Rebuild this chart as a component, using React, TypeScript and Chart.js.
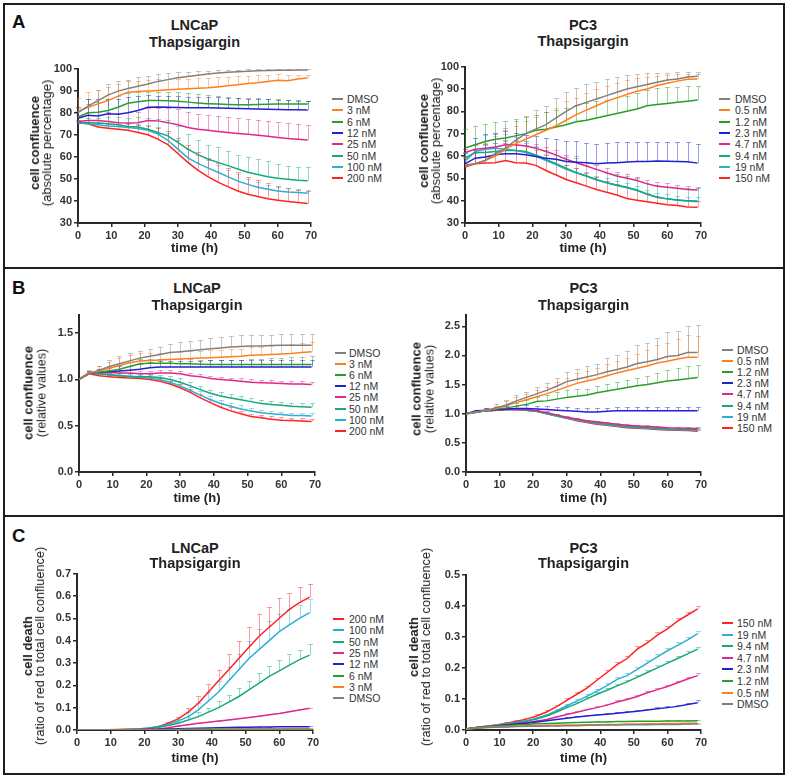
import React, { useEffect, useRef } from "react";
import { Chart, registerables } from "chart.js";
Chart.register(...registerables);

// ---------- data ----------
const TIMES = [0, 3, 6, 9, 12, 15, 18, 21, 24, 27, 30, 33, 36, 39, 42, 45, 48, 51, 54, 57, 60, 63, 66, 69];
const X_TICKS = [0, 10, 20, 30, 40, 50, 60, 70];
const LNCAP_DOSES = ["DMSO", "3 nM", "6 nM", "12 nM", "25 nM", "50 nM", "100 nM", "200 nM"];
const PC3_DOSES = ["DMSO", "0.5 nM", "1.2 nM", "2.3 nM", "4.7 nM", "9.4 nM", "19 nM", "150 nM"];

// A – LNCaP, absolute confluence (%)
const aL0 = [80, 83, 85.5, 88, 89.8, 91, 92, 93, 94.2, 95, 95.8, 96.4, 97, 97.5, 98, 98.4, 98.6, 98.8, 99, 99.1, 99.2, 99.3, 99.4, 99.4];
const aL0sd = [2, 3, 5, 5, 4.5, 4, 4, 3.8, 3.3, 3, 2.5, 2.2, 1.8, 1.5, 1.2, 1, 0.9, 0.8, 0.7, 0.6, 0.5, 0.5, 0.5, 0.4];
const aL1 = [80.5, 82.5, 84, 85.5, 87.5, 89.3, 89.6, 89.8, 90.1, 90.4, 90.6, 90.9, 91.1, 91.3, 91.7, 92.2, 92.7, 93.2, 93.6, 94.2, 94.7, 94.5, 95.3, 95.7];
const aL1sd = [6, 7, 6.5, 6, 5.5, 5, 5, 5, 5, 5, 4.8, 4.6, 4.5, 4.5, 4.3, 4, 3.8, 3.6, 3.3, 3, 2.7, 2.6, 2, 1.6];
const aL2 = [78, 80, 80.2, 81, 82.5, 84.3, 85, 85.5, 85.5, 85.4, 85.2, 84.8, 84.4, 84.1, 83.9, 83.7, 83.6, 83.6, 83.7, 83.8, 83.9, 83.9, 84, 84];
const aL2sd = [3, 4, 4.5, 5, 5, 4.5, 4.3, 4, 4, 4, 4, 4, 4, 3.8, 3.6, 3.4, 3.2, 3, 2.8, 2.5, 2.2, 2, 1.8, 1.5];
const aL3 = [77.5, 78.8, 78.5, 79.5, 79.3, 80, 81, 82.5, 82.6, 82.5, 82.4, 82.3, 82.2, 82.2, 82.1, 82, 81.9, 81.8, 81.7, 81.6, 81.5, 81.4, 81.3, 81.2];
const aL3sd = [5, 7.5, 7.5, 6.5, 7, 7, 6.5, 5.5, 5, 5, 5, 5, 5, 5, 5, 4.8, 4.6, 4.5, 4.4, 4.4, 4.3, 4.3, 4.2, 4.2];
const aL4 = [76, 76.5, 76.5, 76, 75.5, 75.3, 75.5, 76.5, 76.3, 75.5, 74.5, 73.3, 72.5, 72, 71.5, 71, 70.6, 70.2, 69.8, 69.3, 68.8, 68.3, 68, 67.6];
const aL4sd = [3, 4, 4, 4.5, 4.5, 5, 5, 5.5, 6, 6.5, 7, 7.2, 7, 7, 6.8, 7, 7, 7.1, 7, 7, 7, 7.2, 6.8, 6.7];
const aL5 = [75.5, 75.5, 75.3, 75, 74.5, 73.8, 73.5, 72.5, 71, 69.5, 66.5, 63.5, 61, 59, 57.5, 56, 54.5, 53, 52, 51, 50.3, 49.8, 49.4, 49.2];
const aL5sd = [1, 2, 2.5, 3, 3.5, 4, 4.5, 5, 6, 7, 7.5, 7, 6.5, 6.5, 7, 6.5, 6.5, 7, 7, 7, 6.5, 6.2, 6.1, 6.3];
const aL6 = [75.5, 75, 74.5, 74, 73.8, 73.3, 72.8, 72, 70.3, 67.5, 63.5, 59.5, 57, 55, 53, 51, 49, 47.5, 46.2, 45.3, 44.5, 44, 43.8, 43.5];
const aL6sd = [0.5, 1, 1.5, 1.5, 2, 2, 2, 2.5, 3, 3.5, 4, 4, 4, 3.5, 3.5, 3, 3, 2.5, 2.5, 2, 2, 1.8, 1.5, 1.5];
const aL7 = [75.5, 75, 73.5, 73, 72.5, 72, 71, 70, 68, 65.5, 61.5, 57.5, 54, 51, 48.5, 46.5, 44.5, 43, 42, 41, 40.3, 39.7, 39.3, 38.8];
const aL7sd = [1, 1.5, 2, 2, 2.5, 3, 3.5, 4, 5, 6, 7, 8, 8, 8.5, 8.5, 8.5, 8.5, 8, 7.5, 7, 6.5, 6, 5.5, 5.5];

// A – PC3, absolute confluence (%)
const aR0 = [56, 56.5, 58, 61, 63.5, 67, 70, 72, 74, 77, 80, 82.5, 84, 85.5, 87, 88.5, 90, 91, 92, 93, 94, 94.5, 95.3, 95.7];
const aR0sd = [3, 5, 7, 9, 9, 8.5, 8, 8.5, 8.5, 9, 8.5, 8, 8, 7.5, 7.3, 6.7, 6.2, 5.6, 5, 4.2, 3.3, 2.9, 2.2, 1.8];
const aR1 = [55.5, 56.5, 58, 60, 63, 65.5, 67.5, 69.5, 71.5, 73.5, 76, 78.5, 80.5, 82.5, 84.5, 86, 87.5, 89, 90, 91.5, 92.5, 93.5, 94.3, 94.5];
const aR1sd = [4, 6, 8, 9, 8.5, 8, 8, 8, 8, 8, 8.5, 7.5, 7.5, 7.5, 7, 6.5, 6.5, 6, 5.5, 4.5, 3.8, 3, 2.2, 2];
const aR2 = [63.5, 65, 66.5, 67.5, 68, 69, 70, 71.5, 72, 73, 74, 75.3, 76, 77, 78, 79, 80, 81, 82.5, 83, 83.5, 84, 84.5, 85];
const aR2sd = [8.5, 8.5, 8, 7.7, 7.5, 7.5, 7.5, 7, 7.5, 7.5, 7.5, 7.5, 7.5, 7.5, 7, 7.5, 7, 7, 7, 7.5, 7.5, 7, 6.8, 6.3];
const aR3 = [56.5, 59, 59.5, 60.5, 61, 61, 60.5, 59.8, 59, 58.5, 57.5, 57.2, 57, 56.5, 56.8, 57, 57.3, 57.5, 57.5, 57.7, 57.6, 57.5, 57.4, 56.8];
const aR3sd = [5, 9, 10.5, 10, 10, 9.5, 9, 9, 9, 9, 9.3, 9.3, 9, 9, 9.2, 9.3, 9, 8.8, 8.8, 8.6, 8.7, 8.8, 8.9, 8.5];
const aR4 = [61.5, 63, 63.5, 64, 65, 65, 64.5, 63.5, 62, 60.5, 58.5, 57, 55.5, 54, 52.5, 51, 50, 49, 47.5, 46.5, 46, 45.5, 45, 44.8];
const aR4sd = [1.5, 2, 2, 2, 2, 2, 2, 2, 2, 2, 2, 2, 2, 2, 2, 2, 1.8, 1.8, 1.8, 1.7, 1.7, 1.5, 1.5, 1.5];
const aR5 = [59, 61.5, 61.5, 62, 62.5, 62.5, 62, 60.5, 58.5, 56.5, 54.5, 52.5, 51, 49.5, 48, 47, 46, 44.8, 43, 41.5, 40.8, 40.3, 40, 39.8];
const aR5sd = [3, 4, 4, 4, 4, 4, 4, 4, 4, 4, 5, 7.5, 5, 4.5, 4.5, 5, 5, 5.2, 5, 5.5, 5.2, 5.2, 5.5, 5.7];
const aR6 = [57.5, 62, 63, 63.5, 63, 62.5, 61.5, 60, 58, 56.2, 54, 52.5, 51, 49.2, 48, 46.8, 45.8, 44.5, 42.8, 41.5, 40.8, 40.2, 39.8, 39.5];
const aR6sd = [4, 6, 6.5, 7, 7, 6, 5, 4, 3, 2.5, 2, 2, 2, 2, 2, 2, 2, 2, 2, 2, 2, 2, 2, 2];
const aR7 = [55, 56.5, 56.8, 57, 58, 57, 56.8, 55.8, 53.5, 51.5, 49.5, 48, 46.5, 45, 43.8, 42.5, 41, 40.2, 39.5, 38.8, 38.2, 37.8, 37.2, 37];
const aR7sd = [5, 6, 6.5, 7, 8, 8, 8, 7, 7, 7, 6.5, 6.5, 6, 5.5, 5, 5, 5, 4.5, 4, 3.5, 3, 3, 3, 3];

// B – LNCaP, relative confluence
const bL0 = [1, 1.06, 1.1, 1.14, 1.17, 1.2, 1.23, 1.25, 1.27, 1.29, 1.3, 1.31, 1.32, 1.33, 1.34, 1.35, 1.355, 1.36, 1.36, 1.365, 1.37, 1.37, 1.37, 1.37];
const bL0sd = [0, 0.02, 0.05, 0.07, 0.08, 0.09, 0.08, 0.08, 0.08, 0.09, 0.1, 0.1, 0.11, 0.12, 0.12, 0.12, 0.12, 0.12, 0.12, 0.12, 0.12, 0.12, 0.12, 0.12];
const bL1 = [1, 1.07, 1.09, 1.12, 1.15, 1.18, 1.2, 1.205, 1.21, 1.215, 1.22, 1.225, 1.23, 1.235, 1.24, 1.245, 1.25, 1.26, 1.265, 1.27, 1.275, 1.28, 1.29, 1.3];
const bL1sd = [0, 0.03, 0.06, 0.07, 0.08, 0.08, 0.08, 0.08, 0.08, 0.08, 0.08, 0.08, 0.08, 0.08, 0.08, 0.08, 0.08, 0.09, 0.09, 0.09, 0.1, 0.1, 0.1, 0.1];
const bL2 = [1, 1.07, 1.08, 1.09, 1.11, 1.14, 1.17, 1.175, 1.175, 1.175, 1.17, 1.17, 1.165, 1.16, 1.16, 1.16, 1.16, 1.16, 1.16, 1.16, 1.16, 1.16, 1.16, 1.16];
const bL2sd = [0, 0.02, 0.03, 0.04, 0.05, 0.05, 0.05, 0.05, 0.05, 0.05, 0.05, 0.05, 0.05, 0.05, 0.05, 0.05, 0.05, 0.06, 0.06, 0.07, 0.07, 0.08, 0.08, 0.09];
const bL3 = [1, 1.07, 1.08, 1.085, 1.09, 1.1, 1.11, 1.125, 1.135, 1.135, 1.135, 1.135, 1.135, 1.135, 1.135, 1.135, 1.135, 1.135, 1.135, 1.135, 1.135, 1.135, 1.135, 1.135];
const bL3sd = [0, 0.02, 0.03, 0.04, 0.05, 0.05, 0.06, 0.06, 0.06, 0.06, 0.06, 0.06, 0.06, 0.07, 0.07, 0.07, 0.07, 0.07, 0.07, 0.07, 0.07, 0.08, 0.08, 0.08];
const bL4 = [1, 1.07, 1.075, 1.075, 1.07, 1.07, 1.06, 1.06, 1.07, 1.07, 1.06, 1.04, 1.03, 1.01, 1, 0.99, 0.98, 0.97, 0.965, 0.96, 0.955, 0.95, 0.95, 0.945];
const bL4sd = [0, 0.02, 0.02, 0.03, 0.03, 0.03, 0.03, 0.03, 0.03, 0.03, 0.03, 0.03, 0.03, 0.03, 0.03, 0.03, 0.03, 0.03, 0.03, 0.03, 0.03, 0.03, 0.03, 0.03];
const bL5 = [1, 1.07, 1.06, 1.05, 1.04, 1.035, 1.03, 1.03, 1.02, 1, 0.97, 0.93, 0.89, 0.85, 0.82, 0.8, 0.78, 0.76, 0.74, 0.73, 0.72, 0.71, 0.705, 0.7];
const bL5sd = [0, 0.02, 0.02, 0.02, 0.03, 0.03, 0.03, 0.03, 0.03, 0.04, 0.04, 0.04, 0.04, 0.04, 0.04, 0.04, 0.04, 0.04, 0.04, 0.04, 0.04, 0.04, 0.04, 0.04];
const bL6 = [1, 1.07, 1.06, 1.05, 1.04, 1.03, 1.02, 1.015, 1, 0.97, 0.93, 0.88, 0.83, 0.78, 0.74, 0.71, 0.68, 0.66, 0.64, 0.63, 0.62, 0.61, 0.61, 0.605];
const bL6sd = [0, 0.02, 0.02, 0.02, 0.02, 0.03, 0.03, 0.03, 0.03, 0.03, 0.04, 0.04, 0.04, 0.04, 0.04, 0.04, 0.04, 0.03, 0.03, 0.03, 0.03, 0.03, 0.03, 0.03];
const bL7 = [1, 1.06, 1.04, 1.03, 1.02, 1.015, 1.01, 1, 0.98, 0.95, 0.91, 0.86, 0.8, 0.75, 0.7, 0.66, 0.63, 0.6, 0.585, 0.57, 0.56, 0.555, 0.55, 0.545];
const bL7sd = [0, 0.02, 0.02, 0.02, 0.02, 0.02, 0.03, 0.03, 0.03, 0.03, 0.04, 0.04, 0.04, 0.04, 0.04, 0.04, 0.03, 0.03, 0.03, 0.03, 0.03, 0.03, 0.03, 0.03];

// B – PC3, relative confluence
const bR0 = [1, 1.02, 1.06, 1.1, 1.15, 1.22, 1.28, 1.34, 1.4, 1.47, 1.55, 1.59, 1.63, 1.67, 1.72, 1.76, 1.8, 1.86, 1.89, 1.93, 1.98, 2, 2.05, 2.05];
const bR0sd = [0, 0.02, 0.04, 0.06, 0.08, 0.1, 0.1, 0.12, 0.12, 0.15, 0.16, 0.18, 0.18, 0.19, 0.23, 0.25, 0.27, 0.32, 0.32, 0.37, 0.42, 0.42, 0.46, 0.47];
const bR1 = [1, 1.03, 1.06, 1.09, 1.14, 1.19, 1.24, 1.29, 1.34, 1.4, 1.46, 1.52, 1.56, 1.6, 1.65, 1.7, 1.74, 1.78, 1.82, 1.87, 1.9, 1.94, 1.97, 1.97];
const bR1sd = [0, 0.02, 0.03, 0.05, 0.07, 0.09, 0.1, 0.11, 0.12, 0.14, 0.15, 0.17, 0.17, 0.18, 0.2, 0.2, 0.22, 0.25, 0.28, 0.3, 0.32, 0.35, 0.38, 0.36];
const bR2 = [1, 1.03, 1.05, 1.08, 1.1, 1.13, 1.16, 1.21, 1.22, 1.25, 1.28, 1.3, 1.32, 1.36, 1.39, 1.42, 1.45, 1.48, 1.5, 1.53, 1.56, 1.58, 1.6, 1.62];
const bR2sd = [0, 0.01, 0.02, 0.03, 0.05, 0.06, 0.08, 0.08, 0.1, 0.12, 0.12, 0.12, 0.11, 0.12, 0.12, 0.13, 0.13, 0.14, 0.15, 0.17, 0.19, 0.2, 0.22, 0.22];
const bR3 = [1, 1.05, 1.06, 1.07, 1.08, 1.09, 1.09, 1.08, 1.07, 1.06, 1.05, 1.04, 1.03, 1.03, 1.04, 1.05, 1.05, 1.05, 1.05, 1.05, 1.05, 1.05, 1.05, 1.05];
const bR3sd = [0, 0.02, 0.03, 0.04, 0.05, 0.05, 0.06, 0.06, 0.06, 0.06, 0.06, 0.06, 0.06, 0.06, 0.06, 0.06, 0.07, 0.07, 0.07, 0.07, 0.07, 0.07, 0.07, 0.07];
const bR4 = [1, 1.03, 1.05, 1.06, 1.07, 1.07, 1.07, 1.05, 1.02, 0.98, 0.94, 0.91, 0.88, 0.86, 0.84, 0.82, 0.8, 0.79, 0.78, 0.77, 0.76, 0.755, 0.75, 0.745];
const bR4sd = [0, 0.01, 0.01, 0.02, 0.02, 0.02, 0.02, 0.02, 0.02, 0.02, 0.02, 0.02, 0.02, 0.02, 0.02, 0.02, 0.02, 0.02, 0.02, 0.02, 0.02, 0.02, 0.02, 0.02];
const bR5 = [1, 1.03, 1.05, 1.06, 1.07, 1.07, 1.06, 1.04, 1.01, 0.97, 0.93, 0.9, 0.87, 0.84, 0.82, 0.8, 0.78, 0.77, 0.76, 0.75, 0.74, 0.735, 0.73, 0.73];
const bR5sd = [0, 0.01, 0.01, 0.02, 0.02, 0.02, 0.02, 0.02, 0.02, 0.02, 0.02, 0.03, 0.02, 0.02, 0.02, 0.02, 0.02, 0.02, 0.02, 0.02, 0.02, 0.02, 0.02, 0.02];
const bR6 = [1, 1.03, 1.05, 1.06, 1.07, 1.07, 1.06, 1.04, 1, 0.96, 0.92, 0.89, 0.86, 0.83, 0.81, 0.79, 0.77, 0.76, 0.75, 0.74, 0.73, 0.725, 0.72, 0.72];
const bR6sd = [0, 0.01, 0.01, 0.01, 0.02, 0.02, 0.02, 0.02, 0.02, 0.02, 0.02, 0.02, 0.02, 0.02, 0.02, 0.02, 0.02, 0.02, 0.02, 0.02, 0.02, 0.02, 0.02, 0.02];
const bR7 = [1, 1.03, 1.05, 1.06, 1.07, 1.07, 1.06, 1.04, 1, 0.96, 0.92, 0.88, 0.85, 0.82, 0.8, 0.78, 0.76, 0.75, 0.74, 0.73, 0.72, 0.715, 0.71, 0.7];
const bR7sd = [0, 0.01, 0.01, 0.02, 0.02, 0.02, 0.02, 0.02, 0.02, 0.02, 0.02, 0.02, 0.02, 0.02, 0.02, 0.02, 0.02, 0.02, 0.02, 0.02, 0.02, 0.02, 0.02, 0.02];

// C – LNCaP, cell death
const cL0 = [0, 0, 0, 0, 0, 0, 0, 0, 0, 0.001, 0.001, 0.001, 0.001, 0.001, 0.001, 0.002, 0.002, 0.002, 0.002, 0.002, 0.002, 0.002, 0.002, 0.002];
const cL0sd = [0, 0, 0, 0, 0, 0, 0, 0, 0, 0, 0, 0, 0, 0, 0, 0.001, 0.001, 0.001, 0.001, 0.001, 0.001, 0.001, 0.001, 0.001];
const cL1 = [0, 0, 0, 0, 0, 0, 0, 0, 0.001, 0.001, 0.001, 0.002, 0.002, 0.002, 0.002, 0.003, 0.003, 0.003, 0.003, 0.003, 0.003, 0.004, 0.004, 0.004];
const cL1sd = [0, 0, 0, 0, 0, 0, 0, 0, 0, 0, 0.001, 0.001, 0.001, 0.001, 0.001, 0.001, 0.001, 0.001, 0.001, 0.001, 0.001, 0.001, 0.001, 0.001];
const cL2 = [0, 0, 0, 0, 0, 0, 0, 0.001, 0.001, 0.002, 0.002, 0.003, 0.003, 0.003, 0.004, 0.004, 0.004, 0.005, 0.005, 0.005, 0.005, 0.006, 0.006, 0.006];
const cL2sd = [0, 0, 0, 0, 0, 0, 0, 0, 0, 0.001, 0.001, 0.001, 0.001, 0.001, 0.001, 0.001, 0.001, 0.001, 0.001, 0.001, 0.001, 0.001, 0.001, 0.001];
const cL3 = [0, 0, 0, 0, 0, 0, 0.001, 0.002, 0.003, 0.005, 0.006, 0.007, 0.008, 0.009, 0.01, 0.011, 0.012, 0.012, 0.013, 0.013, 0.014, 0.014, 0.015, 0.015];
const cL3sd = [0, 0, 0, 0, 0, 0, 0, 0, 0.001, 0.001, 0.001, 0.001, 0.002, 0.002, 0.002, 0.002, 0.002, 0.002, 0.002, 0.002, 0.002, 0.002, 0.002, 0.002];
const cL4 = [0, 0, 0, 0, 0, 0.001, 0.002, 0.003, 0.005, 0.01, 0.018, 0.024, 0.03, 0.035, 0.04, 0.045, 0.05, 0.056, 0.062, 0.068, 0.074, 0.082, 0.09, 0.097];
const cL4sd = [0, 0, 0, 0, 0, 0, 0, 0.001, 0.001, 0.001, 0.002, 0.002, 0.002, 0.002, 0.002, 0.002, 0.002, 0.002, 0.002, 0.002, 0.002, 0.002, 0.002, 0.002];
const cL5 = [0, 0, 0, 0, 0.001, 0.002, 0.003, 0.007, 0.012, 0.02, 0.03, 0.045, 0.06, 0.08, 0.1, 0.125, 0.15, 0.18, 0.21, 0.24, 0.265, 0.29, 0.315, 0.335];
const cL5sd = [0, 0, 0, 0, 0, 0, 0.001, 0.002, 0.003, 0.005, 0.008, 0.015, 0.02, 0.02, 0.03, 0.03, 0.04, 0.04, 0.045, 0.045, 0.05, 0.05, 0.045, 0.05];
const cL6 = [0, 0, 0, 0, 0.001, 0.002, 0.004, 0.008, 0.015, 0.025, 0.04, 0.06, 0.09, 0.13, 0.17, 0.22, 0.27, 0.32, 0.36, 0.4, 0.44, 0.47, 0.5, 0.525];
const cL6sd = [0, 0, 0, 0, 0, 0, 0.001, 0.002, 0.004, 0.006, 0.01, 0.02, 0.03, 0.04, 0.05, 0.06, 0.07, 0.08, 0.09, 0.09, 0.08, 0.07, 0.06, 0.06];
const cL7 = [0, 0, 0, 0.001, 0.002, 0.003, 0.005, 0.008, 0.015, 0.03, 0.05, 0.08, 0.12, 0.17, 0.22, 0.27, 0.32, 0.37, 0.42, 0.46, 0.5, 0.54, 0.57, 0.595];
const cL7sd = [0, 0, 0, 0, 0, 0, 0.001, 0.002, 0.004, 0.007, 0.01, 0.02, 0.03, 0.035, 0.05, 0.07, 0.08, 0.09, 0.1, 0.09, 0.09, 0.075, 0.07, 0.06];

// C – PC3, cell death
const cR0 = [0.003, 0.006, 0.008, 0.009, 0.01, 0.011, 0.012, 0.012, 0.013, 0.013, 0.014, 0.014, 0.015, 0.015, 0.016, 0.016, 0.017, 0.017, 0.017, 0.018, 0.018, 0.018, 0.019, 0.019];
const cR0sd = [0, 0.001, 0.001, 0.001, 0.001, 0.001, 0.001, 0.001, 0.001, 0.001, 0.001, 0.001, 0.001, 0.001, 0.001, 0.001, 0.001, 0.001, 0.001, 0.001, 0.001, 0.001, 0.001, 0.001];
const cR1 = [0.003, 0.006, 0.008, 0.01, 0.011, 0.012, 0.013, 0.014, 0.015, 0.015, 0.016, 0.016, 0.017, 0.017, 0.018, 0.018, 0.019, 0.019, 0.02, 0.02, 0.021, 0.021, 0.022, 0.022];
const cR1sd = [0, 0.001, 0.001, 0.001, 0.001, 0.001, 0.001, 0.001, 0.001, 0.001, 0.001, 0.001, 0.001, 0.001, 0.001, 0.001, 0.001, 0.001, 0.001, 0.001, 0.001, 0.001, 0.001, 0.001];
const cR2 = [0.003, 0.007, 0.01, 0.012, 0.014, 0.016, 0.018, 0.02, 0.021, 0.022, 0.023, 0.024, 0.025, 0.026, 0.026, 0.027, 0.027, 0.028, 0.028, 0.028, 0.029, 0.029, 0.029, 0.03];
const cR2sd = [0, 0.001, 0.001, 0.001, 0.001, 0.002, 0.002, 0.002, 0.002, 0.002, 0.002, 0.002, 0.002, 0.002, 0.002, 0.002, 0.002, 0.002, 0.002, 0.002, 0.002, 0.002, 0.002, 0.002];
const cR3 = [0.003, 0.007, 0.01, 0.013, 0.016, 0.019, 0.022, 0.026, 0.03, 0.034, 0.038, 0.042, 0.045, 0.048, 0.051, 0.054, 0.057, 0.06, 0.064, 0.068, 0.072, 0.076, 0.082, 0.088];
const cR3sd = [0, 0.001, 0.001, 0.001, 0.002, 0.002, 0.002, 0.002, 0.003, 0.003, 0.003, 0.003, 0.003, 0.003, 0.004, 0.004, 0.004, 0.004, 0.005, 0.005, 0.005, 0.006, 0.006, 0.007];
const cR4 = [0.003, 0.007, 0.01, 0.013, 0.016, 0.02, 0.024, 0.028, 0.034, 0.042, 0.05, 0.057, 0.065, 0.072, 0.08, 0.09, 0.098, 0.108, 0.12, 0.13, 0.14, 0.152, 0.164, 0.175];
const cR4sd = [0, 0.001, 0.001, 0.002, 0.002, 0.002, 0.002, 0.003, 0.003, 0.003, 0.004, 0.004, 0.004, 0.004, 0.005, 0.005, 0.005, 0.005, 0.006, 0.006, 0.006, 0.006, 0.007, 0.007];
const cR5 = [0.003, 0.008, 0.011, 0.014, 0.018, 0.023, 0.028, 0.035, 0.045, 0.058, 0.072, 0.085, 0.1, 0.115, 0.128, 0.142, 0.155, 0.17, 0.185, 0.2, 0.215, 0.23, 0.245, 0.26];
const cR5sd = [0, 0.001, 0.001, 0.002, 0.002, 0.003, 0.003, 0.004, 0.004, 0.005, 0.005, 0.006, 0.006, 0.006, 0.007, 0.007, 0.007, 0.007, 0.008, 0.008, 0.008, 0.008, 0.008, 0.008];
const cR6 = [0.003, 0.008, 0.012, 0.015, 0.02, 0.025, 0.03, 0.038, 0.048, 0.062, 0.078, 0.093, 0.108, 0.125, 0.143, 0.163, 0.175, 0.195, 0.215, 0.235, 0.255, 0.272, 0.29, 0.31];
const cR6sd = [0, 0.001, 0.001, 0.002, 0.002, 0.003, 0.003, 0.004, 0.004, 0.005, 0.006, 0.006, 0.007, 0.007, 0.008, 0.008, 0.008, 0.009, 0.009, 0.009, 0.01, 0.01, 0.01, 0.01];
const cR7 = [0.003, 0.008, 0.012, 0.016, 0.022, 0.028, 0.035, 0.045, 0.058, 0.075, 0.095, 0.115, 0.135, 0.16, 0.185, 0.21, 0.23, 0.26, 0.28, 0.305, 0.325, 0.35, 0.37, 0.39];
const cR7sd = [0.001, 0.002, 0.002, 0.002, 0.003, 0.004, 0.004, 0.005, 0.006, 0.007, 0.007, 0.008, 0.008, 0.008, 0.009, 0.008, 0.009, 0.01, 0.01, 0.01, 0.01, 0.01, 0.01, 0.01];

// ---------- styles ----------
const FONT = '"Liberation Sans", Arial, Helvetica, sans-serif';
const SERIES_COLORS = ["#808080", "#ff7f1e", "#2a9d2a", "#2121d2", "#e0278b", "#17a87c", "#2bb0d4", "#ff2323"];
const AXIS = "#2a2a2a";
const TEXT = "#222";

function rgba(hex: string, a: number) {
  const n = parseInt(hex.slice(1), 16);
  return `rgba(${(n >> 16) & 255},${(n >> 8) & 255},${n & 255},${a})`;
}

const errorBarPlugin = {
  id: "errbars",
  beforeDatasetsDraw(chart: any) {
    const { ctx } = chart;
    const xs = chart.scales.x;
    const ys = chart.scales.y;
    ctx.save();
    chart.data.datasets.forEach((ds: any) => {
      const errs = ds.errs;
      if (!errs) return;
      ctx.strokeStyle = ds.errColor;
      ctx.lineWidth = 1;
      ds.data.forEach((pt: any, j: number) => {
        const e = errs[j];
        if (!e) return;
        const x = Math.round(xs.getPixelForValue(pt.x)) + 0.5;
        const y0 = ys.getPixelForValue(pt.y);
        const y1 = Math.round(ys.getPixelForValue(pt.y + e)) + 0.5;
        ctx.beginPath();
        ctx.moveTo(x, y0);
        ctx.lineTo(x, y1);
        ctx.moveTo(x - 2.5, y1);
        ctx.lineTo(x + 2.5, y1);
        ctx.stroke();
      });
    });
    ctx.restore();
  },
};

type PanelSpec = {
  L: number; R: number; T: number; B: number;
  yMin: number; yMax: number; yStep: number; dec: number; xh: number;
  series: number[][]; sds: number[][]; labels: string[]; legendOrder: number[];
  title: [string, string]; tY: [number, number];
  yTitle: [string, string]; ytX: number; ytY: number; ytLh: number; ytFs2: number;
  lgDash: number; lgText: number; lgY: number; lgDy: number;
};

const ORDER_UP = [0, 1, 2, 3, 4, 5, 6, 7];
const ORDER_DOWN = [7, 6, 5, 4, 3, 2, 1, 0];

const PANELS: PanelSpec[] = [
  { L: 78, R: 311, T: 68, B: 223, yMin: 30, yMax: 100, yStep: 10, dec: 0, xh: 33,
    series: [aL0, aL1, aL2, aL3, aL4, aL5, aL6, aL7], sds: [aL0sd, aL1sd, aL2sd, aL3sd, aL4sd, aL5sd, aL6sd, aL7sd],
    labels: LNCAP_DOSES, legendOrder: ORDER_UP, title: ["LNCaP", "Thapsigargin"], tY: [25, 42],
    yTitle: ["cell confluence", "(absolute percentage)"], ytX: 41, ytY: 143, ytLh: 12, ytFs2: 13,
    lgDash: 332, lgText: 347, lgY: 99, lgDy: 11.3 },
  { L: 465, R: 701, T: 66, B: 223, yMin: 30, yMax: 100, yStep: 10, dec: 0, xh: 33,
    series: [aR0, aR1, aR2, aR3, aR4, aR5, aR6, aR7], sds: [aR0sd, aR1sd, aR2sd, aR3sd, aR4sd, aR5sd, aR6sd, aR7sd],
    labels: PC3_DOSES, legendOrder: ORDER_UP, title: ["PC3", "Thapsigargin"], tY: [25, 41],
    yTitle: ["cell confluence", "(absolute percentage)"], ytX: 430, ytY: 141, ytLh: 12, ytFs2: 13,
    lgDash: 719, lgText: 735, lgY: 99, lgDy: 11.3 },
  { L: 79, R: 315, T: 314, B: 472, yMin: 0, yMax: 1.7, yStep: 0.5, dec: 1, xh: 34,
    series: [bL0, bL1, bL2, bL3, bL4, bL5, bL6, bL7], sds: [bL0sd, bL1sd, bL2sd, bL3sd, bL4sd, bL5sd, bL6sd, bL7sd],
    labels: LNCAP_DOSES, legendOrder: ORDER_UP, title: ["LNCaP", "Thapsigargin"], tY: [288, 305],
    yTitle: ["cell confluence", "(relative values)"], ytX: 35, ytY: 393, ytLh: 12.5, ytFs2: 12.5,
    lgDash: 335, lgText: 349, lgY: 353, lgDy: 11.1 },
  { L: 466, R: 701, T: 314, B: 472, yMin: 0, yMax: 2.7, yStep: 0.5, dec: 1, xh: 34,
    series: [bR0, bR1, bR2, bR3, bR4, bR5, bR6, bR7], sds: [bR0sd, bR1sd, bR2sd, bR3sd, bR4sd, bR5sd, bR6sd, bR7sd],
    labels: PC3_DOSES, legendOrder: ORDER_UP, title: ["PC3", "Thapsigargin"], tY: [288, 305],
    yTitle: ["cell confluence", "(relative values)"], ytX: 423, ytY: 389, ytLh: 12.5, ytFs2: 12.5,
    lgDash: 722, lgText: 737, lgY: 350, lgDy: 11.1 },
  { L: 77, R: 313, T: 573, B: 730, yMin: 0, yMax: 0.7, yStep: 0.1, dec: 1, xh: 36,
    series: [cL0, cL1, cL2, cL3, cL4, cL5, cL6, cL7], sds: [cL0sd, cL1sd, cL2sd, cL3sd, cL4sd, cL5sd, cL6sd, cL7sd],
    labels: LNCAP_DOSES, legendOrder: ORDER_DOWN, title: ["LNCaP", "Thapsigargin"], tY: [548, 563],
    yTitle: ["cell death", "(ratio of red to total cell confluence)"], ytX: 34, ytY: 646, ytLh: 12, ytFs2: 12.7,
    lgDash: 333, lgText: 349, lgY: 619, lgDy: 11.3 },
  { L: 466, R: 701, T: 574, B: 730, yMin: 0, yMax: 0.5, yStep: 0.1, dec: 1, xh: 36,
    series: [cR0, cR1, cR2, cR3, cR4, cR5, cR6, cR7], sds: [cR0sd, cR1sd, cR2sd, cR3sd, cR4sd, cR5sd, cR6sd, cR7sd],
    labels: PC3_DOSES, legendOrder: ORDER_DOWN, title: ["PC3", "Thapsigargin"], tY: [548, 563],
    yTitle: ["cell death", "(ratio of red to total cell confluence)"], ytX: 420, ytY: 647, ytLh: 12, ytFs2: 12.7,
    lgDash: 722, lgText: 737, lgY: 623, lgDy: 11.6 },
];

const YW = 40;
const PT = 8;
const PR = 14;

function LineChart({ p }: { p: PanelSpec }) {
  const ref = useRef<HTMLCanvasElement>(null);
  const width = p.R - p.L + YW + PR;
  const height = p.B - p.T + PT + p.xh;
  useEffect(() => {
    const tickFont = { family: FONT, size: 11, weight: "bold" as const };
    const chart = new Chart(ref.current as HTMLCanvasElement, {
      type: "line",
      data: {
        datasets: p.series.map((vals, i) => ({
          label: p.labels[i],
          data: vals.map((v, j) => ({ x: TIMES[j], y: v })),
          borderColor: SERIES_COLORS[i],
          backgroundColor: SERIES_COLORS[i],
          borderWidth: 1.5,
          pointRadius: 0,
          tension: 0,
          fill: false,
          errs: p.sds[i],
          errColor: rgba(SERIES_COLORS[i], 0.45),
        })) as any,
      },
      options: {
        responsive: false,
        animation: false,
        devicePixelRatio: 1,
        layout: { padding: { left: 0, top: PT, right: PR, bottom: 0 } },
        plugins: { legend: { display: false }, tooltip: { enabled: false }, title: { display: false } },
        scales: {
          x: {
            type: "linear",
            min: 0,
            max: 70,
            afterBuildTicks: (s: any) => { s.ticks = X_TICKS.map((v) => ({ value: v })); },
            ticks: { font: tickFont, color: "#333", padding: 2, maxRotation: 0, autoSkip: false },
            grid: { display: true, drawOnChartArea: false, drawTicks: true, tickLength: 4, color: AXIS, lineWidth: 1.5 },
            border: { display: true, color: AXIS, width: 2 },
            title: { display: true, text: "time (h)", font: { family: FONT, size: 13, weight: "bold" }, color: TEXT, padding: 0 },
            afterFit: (s: any) => { s.height = p.xh; },
          },
          y: {
            type: "linear",
            min: p.yMin,
            max: p.yMax,
            ticks: {
              stepSize: p.yStep,
              includeBounds: false,
              font: tickFont,
              color: "#333",
              padding: 2,
              callback: (v: any) => Number(v).toFixed(p.dec),
            },
            grid: { display: true, drawOnChartArea: false, drawTicks: true, tickLength: 4, color: AXIS, lineWidth: 1.5 },
            border: { display: true, color: AXIS, width: 2 },
            afterFit: (s: any) => { s.width = YW; },
          },
        },
      } as any,
      plugins: [errorBarPlugin],
    });
    return () => chart.destroy();
  }, []);
  return (
    <canvas
      ref={ref}
      width={width}
      height={height}
      style={{ position: "absolute", left: p.L - YW, top: p.T - PT, width, height }}
    />
  );
}

function PanelDecor({ p }: { p: PanelSpec }) {
  const cx = (p.L + p.R) / 2;
  return (
    <>
      {p.title.map((t, i) => (
        <div key={"t" + i} style={{ position: "absolute", left: cx - 100, width: 200, top: p.tY[i] - 9, height: 18, lineHeight: "18px", textAlign: "center", fontFamily: FONT, fontWeight: "bold", fontSize: 14.5, color: TEXT, whiteSpace: "nowrap" }}>
          {t}
        </div>
      ))}
      <div style={{ position: "absolute", left: p.ytX, top: p.ytY, transform: "translate(-50%,-50%) rotate(-90deg)", whiteSpace: "nowrap", textAlign: "center", fontFamily: FONT, color: TEXT, lineHeight: p.ytLh + "px" }}>
        <div style={{ fontWeight: "bold", fontSize: 13 }}>{p.yTitle[0]}</div>
        <div style={{ fontSize: p.ytFs2 }}>{p.yTitle[1]}</div>
      </div>
      {p.legendOrder.map((si, k) => {
        const cy = p.lgY + k * p.lgDy;
        return (
          <React.Fragment key={"l" + k}>
            <div style={{ position: "absolute", left: p.lgDash, top: Math.round(cy) - 1, width: 11, height: 2, background: SERIES_COLORS[si] }} />
            <div style={{ position: "absolute", left: p.lgText, top: cy - 7, height: 14, lineHeight: "14px", fontFamily: FONT, fontSize: 10.5, color: "#333", whiteSpace: "nowrap" }}>
              {p.labels[si]}
            </div>
          </React.Fragment>
        );
      })}
    </>
  );
}

const LETTERS: [string, number][] = [["A", 21.5], ["B", 288], ["C", 536]];

export default function App() {
  return (
    <div style={{ position: "absolute", left: 0, top: 0, width: 787, height: 780, background: "#fff", overflow: "hidden" }}>
      <div style={{ position: "absolute", left: 3, top: 3, width: 782, height: 772, border: "2px solid #1e1e1e", boxSizing: "border-box" }} />
      <div style={{ position: "absolute", left: 3, top: 267, width: 782, height: 2, background: "#1e1e1e" }} />
      <div style={{ position: "absolute", left: 3, top: 515, width: 782, height: 2, background: "#1e1e1e" }} />
      {LETTERS.map(([l, y]) => (
        <div key={l} style={{ position: "absolute", left: 12, top: y - 10, height: 20, lineHeight: "20px", fontFamily: FONT, fontWeight: "bold", fontSize: 18.5, color: "#111" }}>
          {l}
        </div>
      ))}
      {PANELS.map((p, i) => (
        <React.Fragment key={i}>
          <LineChart p={p} />
          <PanelDecor p={p} />
        </React.Fragment>
      ))}
    </div>
  );
}
